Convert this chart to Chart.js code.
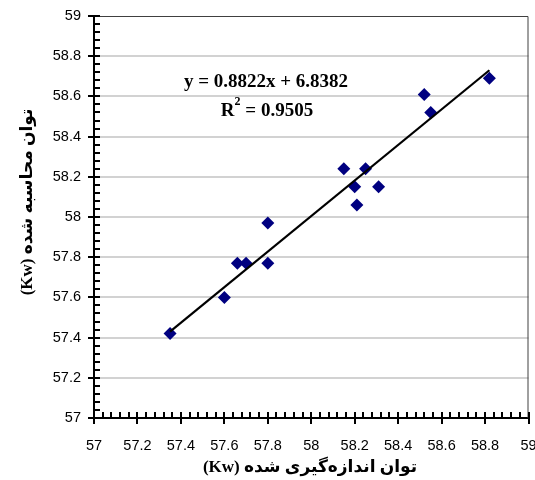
<!DOCTYPE html>
<html>
<head>
<meta charset="utf-8">
<script src="https://cdn.jsdelivr.net/npm/chart.js@4/dist/chart.umd.min.js"></script>
<style>
html,body{margin:0;padding:0;background:#fff;}
#wrap{width:535px;height:480px;}
</style>
</head>
<body>
<div id="wrap"><canvas id="c" width="535" height="480"></canvas></div>
<script>
// ---- data ----
const measured = [57.35, 57.60, 57.66, 57.70, 57.80, 57.80, 58.15, 58.25, 58.20, 58.31, 58.21, 58.52, 58.55, 58.82];
const computed = [57.42, 57.60, 57.77, 57.77, 57.77, 57.97, 58.24, 58.24, 58.15, 58.15, 58.06, 58.61, 58.52, 58.69];
const trendX = [57.35, 58.82];
const trendY = [57.43, 58.73];
const xTicks = [57, 57.2, 57.4, 57.6, 57.8, 58, 58.2, 58.4, 58.6, 58.8, 59];
const yTicks = [57, 57.2, 57.4, 57.6, 57.8, 58, 58.2, 58.4, 58.6, 58.8, 59];
const xTitle = "(Kw) توان اندازه‌گیری شده";
const yTitle = "(Kw) توان محاسبه شده";
const eqText = "y = 0.8822x + 6.8382";
const r2Value = "0.9505";

const titleFont = "bold 17px 'Liberation Serif', 'DejaVu Sans', serif";
const eqFont = "bold 19px 'Liberation Serif', serif";
const supFont = "bold 12px 'Liberation Serif', serif";

const points = measured.map((x, i) => ({x: x, y: computed[i]}));
const trend = trendX.map((x, i) => ({x: x, y: trendY[i]}));

const decor = {
  id: 'decor',
  afterDraw(chart) {
    const ctx = chart.ctx;
    const a = chart.chartArea;
    const xs = chart.scales.x, ys = chart.scales.y;
    ctx.save();
    // top & right frame
    ctx.strokeStyle = '#404040';
    ctx.lineWidth = 1;
    ctx.beginPath();
    ctx.moveTo(a.left, a.top + 0.5);
    ctx.lineTo(a.right - 0.5, a.top + 0.5);
    ctx.lineTo(a.right - 0.5, a.bottom);
    ctx.stroke();
    // tick marks (major crossing, minor inside)
    ctx.strokeStyle = '#000';
    ctx.lineWidth = 2;
    ctx.beginPath();
    for (let i = 0; i <= 50; i++) {
      const v = 57 + i * 0.04;
      const major = i % 5 === 0;
      const px = Math.round(xs.getPixelForValue(v));
      ctx.moveTo(px, a.bottom - 6);
      ctx.lineTo(px, a.bottom + (major ? 6 : 0));
      const py = Math.round(ys.getPixelForValue(v));
      ctx.moveTo(a.left - (major ? 6 : 0), py);
      ctx.lineTo(a.left + 6, py);
    }
    ctx.stroke();
    // equation
    ctx.fillStyle = '#000';
    ctx.font = eqFont;
    ctx.textAlign = 'center';
    ctx.textBaseline = 'middle';
    ctx.fillText(eqText, 266, 82);
    // R^2 line
    const rest = " = " + r2Value;
    const wR = ctx.measureText("R").width;
    const wRest = ctx.measureText(rest).width;
    ctx.font = supFont;
    const w2 = ctx.measureText("2").width;
    const total = wR + w2 + wRest;
    const sx = 267 - total / 2;
    ctx.textAlign = 'left';
    ctx.font = eqFont;
    ctx.fillText("R", sx, 111);
    ctx.font = supFont;
    ctx.fillText("2", sx + wR, 102);
    ctx.font = eqFont;
    ctx.fillText(rest, sx + wR + w2, 111);
    // axis titles
    ctx.font = titleFont;
    ctx.textAlign = 'center';
    ctx.direction = 'ltr';
    ctx.fillText(xTitle, 310, 468);
    ctx.translate(28, 202);
    ctx.rotate(-Math.PI / 2);
    ctx.fillText(yTitle, 0, 0);
    ctx.restore();
  }
};

new Chart(document.getElementById('c'), {
  type: 'scatter',
  data: {
    datasets: [
      {
        type: 'line',
        data: trend,
        borderColor: '#000',
        borderWidth: 2.2,
        pointRadius: 0,
        fill: false,
        tension: 0
      },
      {
        data: points,
        pointStyle: 'rectRot',
        pointRadius: 6.5,
        pointBackgroundColor: '#000080',
        pointBorderColor: '#000080',
        pointBorderWidth: 0
      }
    ]
  },
  options: {
    responsive: false,
    animation: false,
    events: [],
    layout: {padding: {top: 16, right: 6, left: 0, bottom: 0}},
    plugins: {legend: {display: false}, tooltip: {enabled: false}},
    scales: {
      x: {
        type: 'linear',
        min: 57, max: 59,
        afterBuildTicks: s => { s.ticks = xTicks.map(v => ({value: v})); },
        afterFit: s => { s.height = 62; s.paddingLeft = 0; s.paddingRight = 0; },
        grid: {display: false},
        border: {display: true, color: '#000', width: 2},
        ticks: {
          padding: 11,
          color: '#000',
          maxRotation: 0,
          autoSkip: false,
          font: {family: "'Liberation Sans', Arial, sans-serif", size: 14.5},
          callback: v => String(+Number(v).toFixed(1))
        }
      },
      y: {
        type: 'linear',
        min: 57, max: 59,
        afterBuildTicks: s => { s.ticks = yTicks.map(v => ({value: v})); },
        afterFit: s => { s.width = 94; s.paddingTop = 0; s.paddingBottom = 0; },
        grid: {
          drawTicks: false,
          lineWidth: 2,
          color: c => (c.tick && (c.tick.value === 57 || c.tick.value === 59)) ? 'rgba(0,0,0,0)' : '#d2d2d2'
        },
        border: {display: true, color: '#000', width: 2},
        ticks: {
          padding: 13,
          color: '#000',
          autoSkip: false,
          font: {family: "'Liberation Sans', Arial, sans-serif", size: 14.5},
          callback: v => String(+Number(v).toFixed(1))
        }
      }
    }
  },
  plugins: [decor]
});
</script>
</body>
</html>
